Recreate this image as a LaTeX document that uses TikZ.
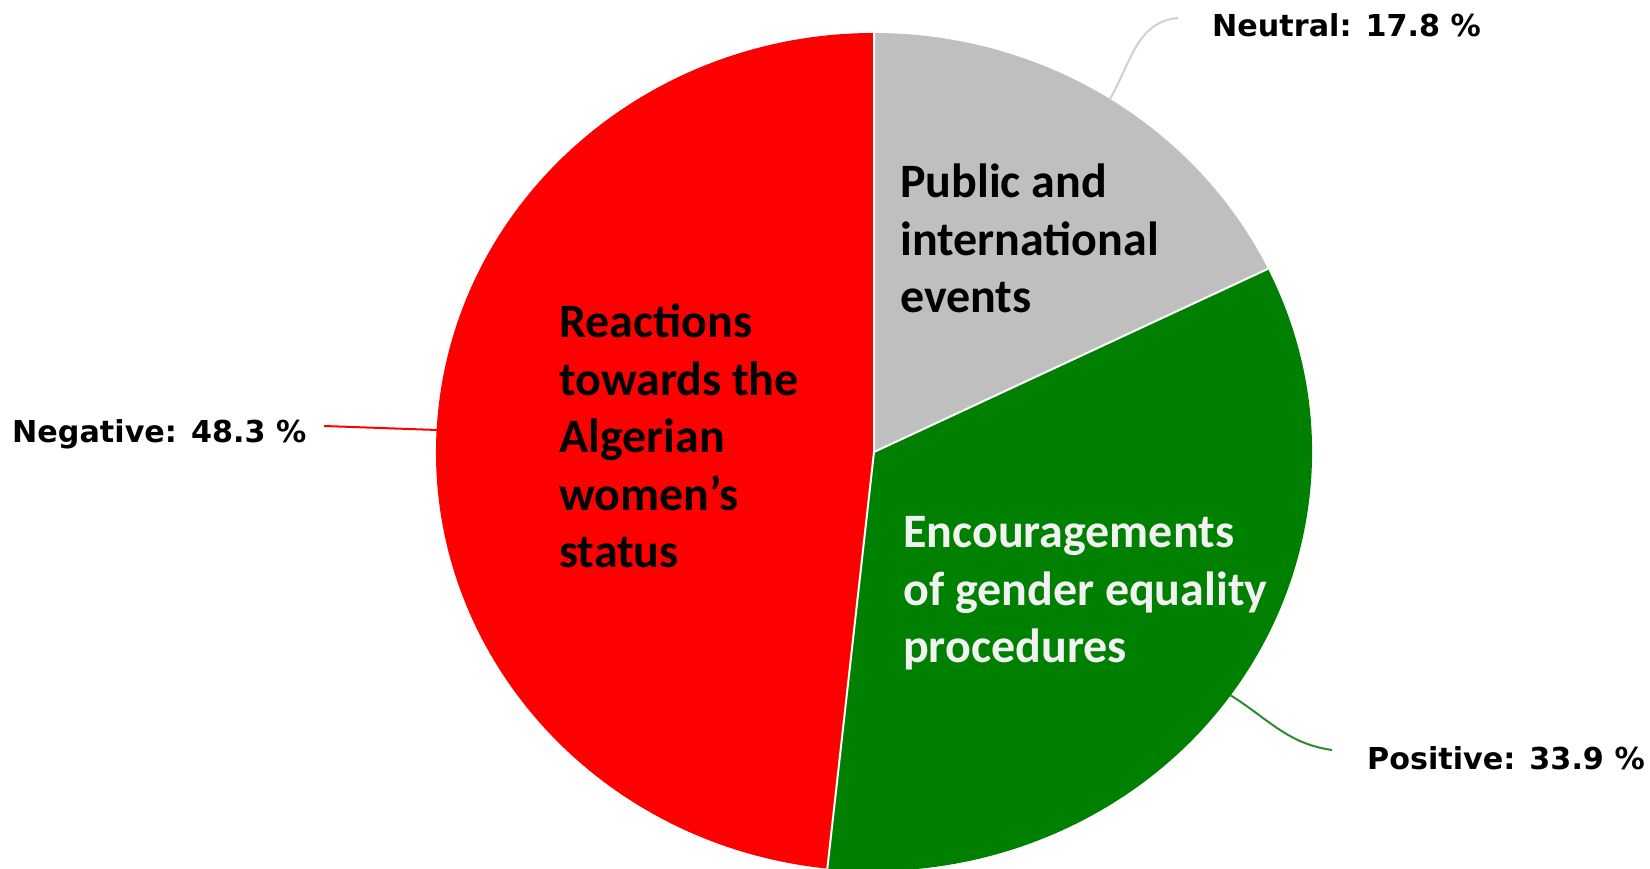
\documentclass[tikz,border=0pt]{standalone}
\usepackage{fontspec}
\setmainfont{Carlito}
\newfontfamily\lblfont{DejaVu Sans}
\definecolor{pieRed}{HTML}{FF0000}
\definecolor{pieGray}{HTML}{BFBFBF}
\definecolor{pieGreen}{HTML}{008000}
\definecolor{leadGray}{HTML}{D0D0D0}
\definecolor{leadGreen}{HTML}{2E8B2E}
\definecolor{offWhite}{HTML}{F2F2F2}
\tikzset{
  inlabel/.style={anchor=base west, inner sep=0pt, align=left,
    font=\fontsize{48}{57.5}\selectfont\bfseries},
  outlabel/.style={anchor=base west, inner sep=0pt,
    font=\fontsize{30.2}{36}\selectfont\lblfont\bfseries},
  leader/.style={line width=2pt}
}
\begin{document}
\begin{tikzpicture}[x=1pt,y=1pt]
\useasboundingbox (0,0) rectangle (1650,868);
\clip (0,0) rectangle (1650,868);
\coordinate (c) at (874,416);
% slices (elliptical pie)
\fill[pieGray] (c) -- ([shift={(90:438 and 419)}]c) arc[start angle=90, end angle=25.92, x radius=438, y radius=419] -- cycle;
\fill[pieGreen] (c) -- ([shift={(25.92:438 and 419)}]c) arc[start angle=25.92, end angle=-96.12, x radius=438, y radius=419] -- cycle;
\fill[pieRed] (c) -- ([shift={(-96.12:438 and 419)}]c) arc[start angle=-96.12, end angle=-270, x radius=438, y radius=419] -- cycle;
\draw[draw=white, line width=2pt] ([shift={(90:438 and 419)}]c) -- (c) -- ([shift={(25.92:438 and 419)}]c);
\draw[draw=white, line width=2pt] (c) -- ([shift={(-96.12:438 and 419)}]c);
% inside labels (anchored at the baseline of the last line)
\node[inlabel, text=black] (pub) at (900,555) {Public and\\international\\events};
\node[inlabel, text=black] (rea) at (559,300) {Reactions\\towards the\\Algerian\\women’s\\status};
\node[inlabel, text=offWhite] (enc) at (903,205) {Encouragements\\of gender equality\\procedures};
% outside labels
\node[outlabel] (neu) at (1212,831) {Neutral: 17.8 \%};
\node[outlabel] (neg) at (12,425) {Negative: 48.3 \%};
\node[outlabel] (pos) at (1367,98) {Positive: 33.9 \%};
% leader anchors
\coordinate (neuA) at ([shift={(57.4:438 and 419)}]c);
\coordinate (neuB) at (1178,850);
\coordinate (negA) at (437,438);
\coordinate (negB) at (324,442);
\coordinate (posA) at ([shift={(-35.5:438 and 419)}]c);
\coordinate (posB) at (1332,118);
\draw[leader, leadGray] (neuA) to[out=60, in=185] (neuB);
\draw[leader, pieRed] (negA) -- (negB);
\draw[leader, leadGreen] (posA) to[out=-32, in=172] (posB);
\end{tikzpicture}
\end{document}
